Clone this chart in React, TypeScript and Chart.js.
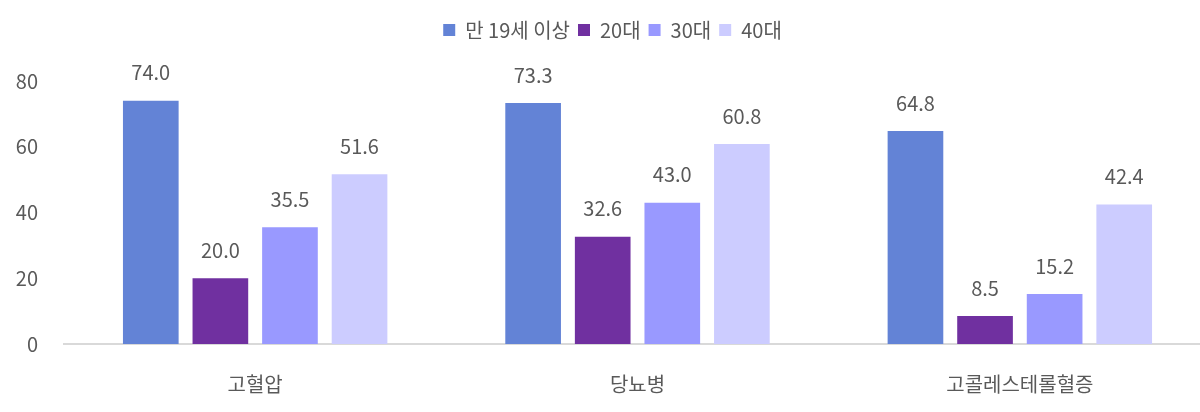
import React, { useEffect, useRef } from "react";
import { Chart, registerables } from "chart.js";
import type { Plugin } from "chart.js";

Chart.register(...registerables);

const categories = ["고혈압", "당뇨병", "고콜레스테롤혈증"];
const seriesNames = ["만 19세 이상", "20대", "30대", "40대"];
const adultValues = [74.0, 73.3, 64.8];
const twentiesValues = [20.0, 32.6, 8.5];
const thirtiesValues = [35.5, 43.0, 15.2];
const fortiesValues = [51.6, 60.8, 42.4];
const yTicks = [0, 20, 40, 60, 80];

const colors = ["#6383D6", "#7030A0", "#9999FF", "#CCCCFF"];
const textColor = "#595959";
const fontFamily = "'Noto Sans CJK KR', 'Noto Sans', sans-serif";

// taller legend so the plot starts lower
const legendSpacer: Plugin<"bar"> = {
  id: "legendSpacer",
  beforeInit(chart) {
    const legend: any = chart.legend;
    if (!legend) return;
    const fit = legend.fit;
    legend.fit = function () {
      fit.bind(legend)();
      this.height += 31;
    };
  },
};

// value labels above each bar
const valueLabels: Plugin<"bar"> = {
  id: "valueLabels",
  afterDatasetsDraw(chart) {
    const ctx = chart.ctx;
    ctx.save();
    ctx.font = `20px ${fontFamily}`;
    ctx.fillStyle = textColor;
    ctx.textAlign = "center";
    ctx.textBaseline = "bottom";
    chart.data.datasets.forEach((ds, i) => {
      const meta = chart.getDatasetMeta(i);
      meta.data.forEach((bar: any, j) => {
        const v = ds.data[j] as number;
        ctx.fillText(v.toFixed(1), bar.x, bar.y - 18);
      });
    });
    ctx.restore();
  },
};

const BarChart: React.FC = () => {
  const canvasRef = useRef<HTMLCanvasElement | null>(null);

  useEffect(() => {
    document.body.style.margin = "0";
    if (!canvasRef.current) return;
    const values = [adultValues, twentiesValues, thirtiesValues, fortiesValues];

    const chart = new Chart(canvasRef.current, {
      type: "bar",
      data: {
        labels: categories,
        datasets: seriesNames.map((name, i) => ({
          label: name,
          data: values[i],
          backgroundColor: colors[i],
          borderWidth: 0,
          barPercentage: 0.8,
          categoryPercentage: 0.728,
        })),
      },
      options: {
        animation: false,
        responsive: true,
        maintainAspectRatio: false,
        layout: { padding: { left: 14, right: 0, top: 12, bottom: 0 } },
        plugins: {
          legend: {
            position: "top",
            labels: {
              boxWidth: 12,
              boxHeight: 12,
              padding: 8,
              color: textColor,
              font: { family: fontFamily, size: 20 },
            },
          },
          tooltip: { enabled: false },
        },
        scales: {
          x: {
            grid: { display: false, drawTicks: false },
            border: { display: true, color: "#D9D9D9", width: 2 },
            ticks: {
              color: textColor,
              padding: 28,
              font: { family: fontFamily, size: 20 },
            },
            afterFit: (axis) => {
              axis.height = 68;
            },
          },
          y: {
            min: 0,
            max: 80,
            grid: { display: false, drawTicks: false },
            border: { display: false },
            afterBuildTicks: (axis) => {
              axis.ticks = yTicks.map((v) => ({ value: v }));
            },
            afterFit: (axis) => {
              axis.width = 50;
            },
            ticks: {
              color: textColor,
              padding: 26,
              font: { family: fontFamily, size: 20 },
            },
          },
        },
      },
      plugins: [legendSpacer, valueLabels],
    });

    return () => {
      chart.destroy();
    };
  }, []);

  // plot area runs a little past the right edge of the picture
  return (
    <div style={{ width: 1200, height: 412, overflow: "hidden" }}>
      <div style={{ width: 1211, height: 412, position: "relative" }}>
        <canvas ref={canvasRef} />
      </div>
    </div>
  );
};

export default function App() {
  return <BarChart />;
}
